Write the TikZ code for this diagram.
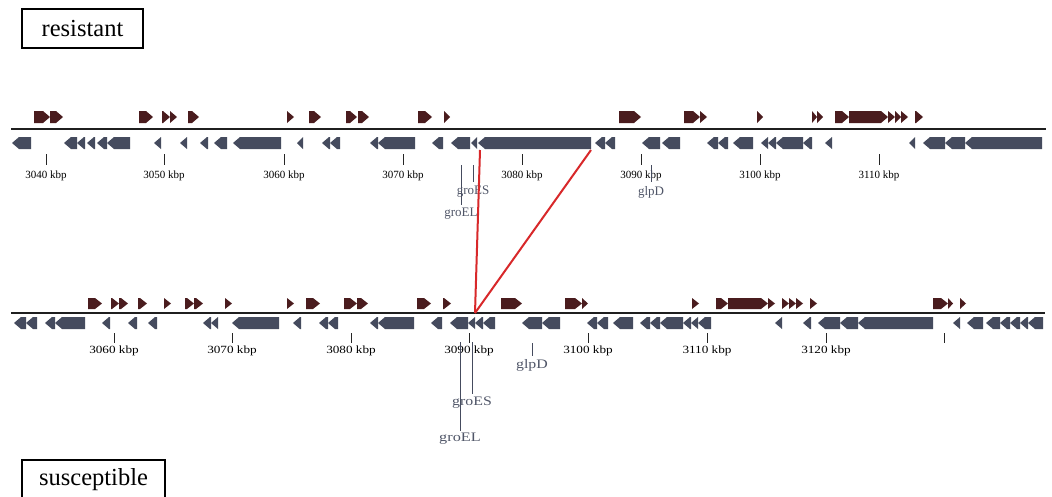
\documentclass[tikz,border=0pt]{standalone}
\usepackage{fontspec}
\setmainfont{Liberation Serif}
\definecolor{fwcol}{HTML}{4A1C1E}
\definecolor{rvcol}{HTML}{454B5E}
\definecolor{gncol}{HTML}{505668}
\definecolor{redcol}{HTML}{D8282A}
\newcommand\fw[2]{\fill[fwcol] (#1,\ftop) -- ({max(#1,#2-7)},\ftop) -- (#2,\fmid) -- ({max(#1,#2-7)},\fbot) -- (#1,\fbot) -- cycle;}
\newcommand\rv[2]{\fill[rvcol] (#1,\rmid) -- ({min(#2,#1+7)},\rtop) -- (#2,\rtop) -- (#2,\rbot) -- ({min(#2,#1+7)},\rbot) -- cycle;}
\tikzset{
  boxlbl/.style={draw=black, line width=2pt, font=\fontsize{24.5}{26}\selectfont, inner sep=0pt},
  ticklbl/.style={font=\fontsize{11}{12}\selectfont, inner sep=0pt},
  genelbl/.style={font=\fontsize{13}{14}\selectfont, text=gncol, inner sep=0pt},
  backbone/.style={line width=2.2pt, black!88},
  tickln/.style={line width=0.9pt, black!85},
  geneln/.style={line width=1pt, rvcol},
  redln/.style={line width=2pt, redcol}
}
\begin{document}
\begin{tikzpicture}[x=1pt,y=-1pt]
\clip (0,0) rectangle (1052,496);
\fill[white] (0,0) rectangle (1052,496);

% boxes
\draw[line width=2pt] (22,9) rectangle (143,48);
\node[font=\fontsize{24.5}{26}\selectfont] (res) at (82.5,29) {resistant};
\draw[line width=2pt] (22,460) rectangle (165,510);
\node[font=\fontsize{24.5}{26}\selectfont] (sus) at (93.5,480) {susceptible};

% ---------- top track ----------
\def\ftop{111}\def\fmid{117}\def\fbot{123}
\def\rtop{137}\def\rmid{143}\def\rbot{149}
\foreach \a/\b in {34/50,50/63,139/153,162/170,170/177,188/199,287/294,309/321,346/357,358/369,418/432,444/450,619/641,684/700,700/707,757/763,812/817,817/823,835/849,849/888,888/895,895/901,901/908,915/923}{\fw{\a}{\b}}
\foreach \a/\b in {12/31,64/77,77/85,87/95,97/107,107/130,154/161,180/187,200/208,214/227,233/281,297/303,322/330,330/340,370/378,378/415,432/443,451/470,471/477,478/591,595/605,605/615,642/660,662/680,707/718,718/728,733/753,761/768,768/776,776/803,803/812,825/832,909/915,923/945,945/965,965/1042}{\rv{\a}{\b}}
\draw[backbone] (11,129) -- (1046,129);
\foreach \x/\l [count=\i] in {46/3040,164/3050,284/3060,403/3070,522/3080,641/3090,760/3100,879/3110}{
  \draw[tickln] (\x,154) -- (\x,165);
  \node[ticklbl] (tt\i) at (\x,176) {\l\ kbp};
}
% gene labels top
\draw[geneln] (461,165) -- (461,205);
\draw[geneln] (473,165) -- (473,182);
\draw[geneln] (651,165) -- (651,182);
\node[genelbl] (tES) at (473,192) {groES};
\node[genelbl] (tEL) at (461,214) {groEL};
\node[genelbl] (tglp) at (651,192) {glpD};

% ---------- bottom track ----------
\def\ftop{298}\def\fmid{303.5}\def\fbot{309}
\def\rtop{317}\def\rmid{323}\def\rbot{329}
\foreach \a/\b in {88/102,111/119,119/128,138/147,164/171,185/194,194/203,225/232,287/294,306/320,344/357,357/368,417/431,443/451,501/522,565/582,582/588,692/699,716/728,728/768,768/775,782/789,789/796,796/803,810/817,933/948,948/953,960/966}{\fw{\a}{\b}}
\foreach \a/\b in {14/26,26/37,45/55,55/85,102/110,128/137,148/157,203/211,211/218,232/279,293/301,319/328,328/338,370/378,378/414,431/442,450/468,468/475,475/483,483/495,522/542,542/560,587/597,597/608,613/633,640/650,650/660,660/683,683/691,691/698,698/711,775/782,803/811,818/840,840/858,858/933,953/960,967/983,986/1000,1000/1010,1010/1020,1020/1028,1028/1043}{\rv{\a}{\b}}
\draw[backbone] (11,313) -- (1045,313);
\foreach \x/\l [count=\i] in {114/3060,232/3070,351/3080,469/3090,588/3100,707/3110,826/3120}{
  \draw[tickln] (\x,333) -- (\x,343);
  \node[ticklbl] (bt\i) at (\x,351) {\scalebox{1.2}[1]{\l\ kbp}};
}
\draw[tickln] (944,333) -- (944,343);
% gene labels bottom
\draw[geneln] (460,342) -- (460,431);
\draw[geneln] (472,342) -- (472,394);
\draw[geneln] (532,343) -- (532,356);
\node[genelbl] (bES) at (472,403) {\scalebox{1.22}[1]{groES}};
\node[genelbl] (bEL) at (460,439) {\scalebox{1.25}[1]{groEL}};
\node[genelbl] (bglp) at (532,365) {\scalebox{1.22}[1]{glpD}};

% ---------- synteny lines ----------
\coordinate (ta) at (480,150);
\coordinate (tb) at (591,150);
\coordinate (bm) at (475,313);
\draw[redln] (ta) -- (bm);
\draw[redln] (tb) -- (bm);
\end{tikzpicture}
\end{document}
